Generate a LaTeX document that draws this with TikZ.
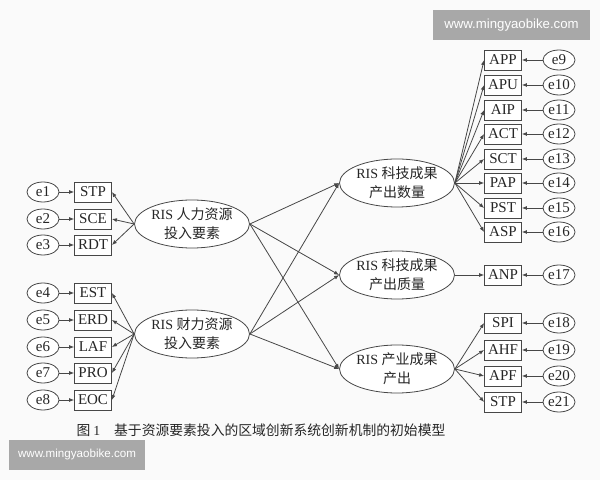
\documentclass[tikz,border=0pt]{standalone}
\usepackage{fontspec}
\setmainfont{Liberation Serif}
\newfontfamily\cjk{Noto Sans CJK SC}
\newfontfamily\wmfont{Liberation Sans}
\usetikzlibrary{arrows.meta,shapes.geometric}
\colorlet{pagebg}{black!2}
\colorlet{linkgray}{black!72}
\colorlet{markgray}{black!34}

\begin{document}
\begin{tikzpicture}[x=0.5pt,y=-0.5pt,
    ind/.style={draw=linkgray, fill=white, minimum width=18.5pt, minimum height=10pt,
        inner sep=0pt, text=black!85, font=\fontsize{7.5}{8}\selectfont},
    err/.style={ellipse, draw=linkgray, fill=white, minimum width=16pt, minimum height=10pt,
        inner sep=0pt, text=black!85, font=\fontsize{7.5}{8}\selectfont},
    lat/.style={ellipse, draw=linkgray, fill=white, minimum width=55pt, minimum height=24pt,
        inner sep=0pt, align=center, text=black!85, font=\fontsize{7}{9.5}\selectfont},
    link/.style={linkgray, line width=0.4pt, -{Latex[length=2.5pt,width=2pt]}},
    wm/.style={fill=markgray, text=white, inner sep=0pt}]
        \fill[pagebg](0,0) rectangle (600,480);
        % latent factors
        \node[lat] (hrin) at (192,224) {RIS {\cjk 人力资源}\\{\cjk 投入要素}};
        \node[lat] (fiin) at (192,334) {RIS {\cjk 财力资源}\\{\cjk 投入要素}};
        \node[lat] (qtyout) at (397,183) {RIS {\cjk 科技成果}\\{\cjk 产出数量}};
        \node[lat] (quaout) at (397,275) {RIS {\cjk 科技成果}\\{\cjk 产出质量}};
        \node[lat] (indout) at (397,369) {RIS {\cjk 产业成果}\\{\cjk 产出}};
        % input indicators
        \foreach \n/\lab/\y in {1/STP/192,2/SCE/219,3/RDT/245}{
            \node[ind] (b\n) at (93,\y) {\lab};
            \node[err] (e\n) at (43,\y) {e\n};
            \draw[link](e\n) -- (b\n);
            \draw[link](hrin.west) -- (b\n.east);
        }
        \foreach \n/\lab/\y in {4/EST/293,5/ERD/320,6/LAF/347,7/PRO/373,8/EOC/400}{
            \node[ind] (b\n) at (93,\y) {\lab};
            \node[err] (e\n) at (43,\y) {e\n};
            \draw[link](e\n) -- (b\n);
            \draw[link](fiin.west) -- (b\n.east);
        }
        % output indicators
        \foreach \n/\lab/\y in {9/APP/60,10/APU/85,11/AIP/110,12/ACT/134,13/SCT/159,14/PAP/183,15/PST/208,16/ASP/232}{
            \node[ind] (b\n) at (503,\y) {\lab};
            \node[err] (e\n) at (559,\y) {e\n};
            \draw[link](e\n) -- (b\n);
            \draw[link](qtyout.east) -- (b\n.west);
        }
        \node[ind] (b17) at (503,275) {ANP};
        \node[err] (e17) at (559,275) {e17};
        \draw[link](e17) -- (b17);
        \draw[link](quaout.east) -- (b17.west);
        \foreach \n/\lab/\y in {18/SPI/323,19/AHF/350,20/APF/376,21/STP/402}{
            \node[ind] (b\n) at (503,\y) {\lab};
            \node[err] (e\n) at (559,\y) {e\n};
            \draw[link](e\n) -- (b\n);
            \draw[link](indout.east) -- (b\n.west);
        }
        % paths between factors
        \foreach \src in {hrin,fiin}{
            \foreach \dst in {qtyout,quaout,indout}{
                \draw[link](\src.east) -- (\dst.west);
            }
        }
        \node[text=black!85, font=\cjk\fontsize{6.9}{8}\selectfont] (cap) at (261,430)
            {图~{\rmfamily 1}\quad 基于资源要素投入的区域创新系统创新机制的初始模型};
        % watermarks
        \node[wm, minimum width=78.5pt, minimum height=15pt, font=\wmfont\fontsize{6.6}{8}\selectfont]
            (wmtop) at (511.5,25) {www.mingyaobike.com};
        \node[wm, minimum width=68pt, minimum height=15pt, font=\wmfont\fontsize{5.8}{7}\selectfont]
            (wmbot) at (77,455) {www.mingyaobike.com};
    \end{tikzpicture}
\end{document}
